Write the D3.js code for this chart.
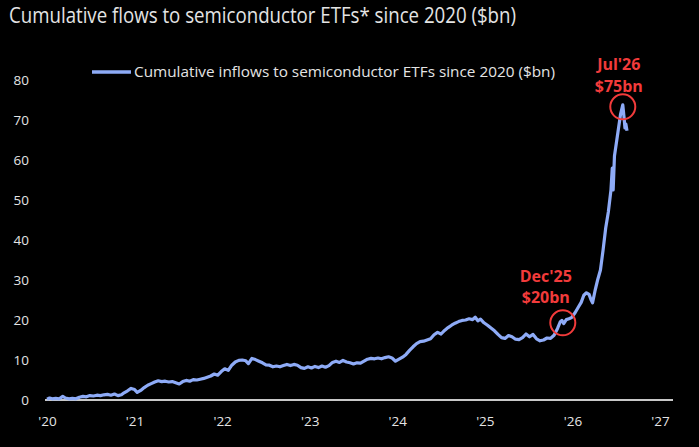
<!DOCTYPE html>
<html>
<head>
<meta charset="utf-8">
<script src="https://cdn.jsdelivr.net/npm/d3@7"></script>
<style>
  html, body { margin: 0; padding: 0; background: #000; }
  svg { display: block; }
</style>
</head>
<body>
<svg id="chart" width="699" height="447"></svg>
<script>
// ---- Data ----
const titleText = "Cumulative flows to semiconductor ETFs* since 2020 ($bn)";
const seriesName = "Cumulative inflows to semiconductor ETFs since 2020 ($bn)";
const yTicks = [0, 10, 20, 30, 40, 50, 60, 70, 80];
const xTicks = [2020, 2021, 2022, 2023, 2024, 2025, 2026, 2027];
const xTickLabels = ["'20", "'21", "'22", "'23", "'24", "'25", "'26", "'27"];

// decimal-year dates and cumulative flows ($bn)
const flowDates = [
  2020.00,2020.03,2020.06,2020.10,2020.14,2020.18,2020.21,2020.25,2020.29,2020.33,
  2020.37,2020.41,2020.45,2020.49,2020.53,2020.57,2020.61,2020.65,2020.69,2020.73,
  2020.77,2020.81,2020.85,2020.88,2020.92,2020.96,2021.00,2021.03,2021.07,2021.11,
  2021.15,2021.19,2021.23,2021.27,2021.31,2021.35,2021.39,2021.43,2021.47,2021.51,
  2021.55,2021.59,2021.63,2021.67,2021.71,2021.75,2021.79,2021.83,2021.87,2021.91,
  2021.95,2021.99,2022.03,2022.07,2022.11,2022.15,2022.19,2022.23,2022.27,2022.30,
  2022.34,2022.38,2022.42,2022.46,2022.50,2022.54,2022.58,2022.62,2022.66,2022.70,
  2022.74,2022.78,2022.82,2022.86,2022.90,2022.94,2022.98,2023.02,2023.06,2023.10,
  2023.14,2023.18,2023.22,2023.26,2023.30,2023.34,2023.38,2023.42,2023.46,2023.50,
  2023.54,2023.58,2023.62,2023.66,2023.70,2023.74,2023.78,2023.82,2023.86,2023.90,
  2023.94,2023.98,2024.02,2024.06,2024.10,2024.14,2024.18,2024.22,2024.26,2024.30,
  2024.34,2024.38,2024.42,2024.46,2024.50,2024.54,2024.58,2024.62,2024.66,2024.70,
  2024.74,2024.78,2024.82,2024.86,2024.89,2024.92,2024.95,2024.99,2025.03,2025.07,
  2025.11,2025.15,2025.19,2025.23,2025.27,2025.31,2025.35,2025.39,2025.43,2025.47,
  2025.51,2025.55,2025.59,2025.63,2025.67,2025.71,2025.75,2025.79,2025.83,2025.86,
  2025.88,2025.90,2025.93,2025.96,2025.99,2026.03,2026.07,2026.10,2026.13,2026.16,
  2026.19,2026.21,2026.23,2026.26,2026.29,2026.32,2026.35,2026.38,2026.41,2026.44,
  2026.455,2026.465,2026.48,2026.52,2026.55,2026.575,2026.59,2026.60,2026.61,2026.623
];
const flowValues = [
  0.2,0.5,0.3,0.4,0.3,0.9,0.5,0.3,0.4,0.3,
  0.7,0.9,0.8,1.1,1.0,1.2,1.1,1.3,1.4,1.2,
  1.5,1.1,1.3,1.8,2.3,2.9,2.6,1.9,2.4,3.1,
  3.7,4.1,4.5,4.8,4.6,4.7,4.5,4.6,4.3,4.0,
  4.6,4.9,4.7,5.1,5.0,5.2,5.4,5.7,6.0,6.5,
  6.2,7.1,7.8,7.4,8.7,9.5,9.9,10.0,9.8,9.1,
  10.4,10.1,9.7,9.3,8.8,8.7,8.3,8.5,8.3,8.6,
  8.9,8.6,8.9,8.7,8.1,7.9,8.3,8.0,8.4,8.1,
  8.5,8.2,8.6,9.4,9.7,9.4,9.9,9.5,9.3,9.0,
  9.3,9.2,9.7,10.2,10.4,10.3,10.5,10.3,10.6,10.8,
  10.5,9.7,10.2,10.7,11.4,12.4,13.3,14.1,14.6,14.7,
  15.0,15.3,16.3,16.9,16.5,17.4,18.1,18.7,19.2,19.6,
  19.9,20.0,20.3,20.1,20.7,19.8,20.2,19.3,18.7,18.0,
  17.3,16.4,15.6,15.4,16.1,15.8,15.2,15.1,15.6,16.5,
  15.8,16.4,15.3,14.8,15.0,15.5,15.4,16.2,17.9,19.5,
  19.9,19.1,20.1,20.3,20.6,21.8,23.3,24.4,26.2,26.8,
  26.4,25.2,24.3,27.5,30.2,32.5,37.5,43.0,47.0,52.5,
  58.0,52.5,61.0,67.0,71.5,73.8,70.5,68.0,69.0,67.3
];

// annotations
const annDates = [2025.89, 2026.575];
const annValues = [19.3, 73.3];
const annLine1 = ["Dec'25", "Jul'26"];
const annLine2 = ["$20bn", "$75bn"];

// ---- Layout / style ----
const lineColor = "#8eabf7";
const annColor = "#f23b3b";
const textColor = "#e4e4e4";
const annOffsets = [{dx: -17, dy1: -41, dy2: -20}, {dx: -4, dy1: -37, dy2: -15}];

const svg = d3.select("#chart");
svg.append("rect").attr("width", 699).attr("height", 447).attr("fill", "#000");

const x = d3.scaleLinear().domain([2020, 2027]).range([47, 660]);
const y = d3.scaleLinear().domain([0, 80]).range([400, 80]);

// Title
svg.append("text")
  .attr("x", 9).attr("y", 23)
  .attr("fill", textColor)
  .attr("font-family", "'Liberation Sans Narrow', 'Open Sans', sans-serif")
  .attr("font-size", 21.5)
  .attr("textLength", 507).attr("lengthAdjust", "spacingAndGlyphs")
  .text(titleText);

// Y axis labels
const yAxis = d3.axisLeft(y).tickValues(yTicks).tickSize(0).tickPadding(0);
const yg = svg.append("g").attr("transform", "translate(29,0)").call(yAxis);
yg.select(".domain").remove();
yg.selectAll("text")
  .attr("fill", textColor)
  .attr("font-family", "'Open Sans', sans-serif")
  .attr("font-size", 13.5);

// X axis labels
const xAxis = d3.axisBottom(x).tickValues(xTicks)
  .tickFormat((d, i) => xTickLabels[i]).tickSize(0).tickPadding(0);
const xg = svg.append("g").attr("transform", "translate(0,416)").call(xAxis);
xg.select(".domain").remove();
xg.selectAll("text")
  .attr("fill", textColor)
  .attr("font-family", "'Open Sans', sans-serif")
  .attr("font-size", 13.5);

// Zero baseline
svg.append("line")
  .attr("x1", x(2020) - 2).attr("x2", 673)
  .attr("y1", y(0)).attr("y2", y(0))
  .attr("stroke", "#c8c8c8").attr("stroke-width", 2);

// Series line
const pts = flowDates.map((d, i) => [d, flowValues[i]]);
const line = d3.line().x(d => x(d[0])).y(d => y(d[1])).curve(d3.curveLinear);
svg.append("path")
  .attr("d", line(pts))
  .attr("fill", "none")
  .attr("stroke", lineColor)
  .attr("stroke-width", 3.2)
  .attr("stroke-linejoin", "round");

// Legend
svg.append("line")
  .attr("x1", 92).attr("x2", 131).attr("y1", 72).attr("y2", 72)
  .attr("stroke", lineColor).attr("stroke-width", 3.5);
svg.append("text")
  .attr("x", 134).attr("y", 77)
  .attr("fill", textColor)
  .attr("font-family", "'Liberation Sans Narrow', 'Open Sans', sans-serif")
  .attr("font-size", 14.5)
  .attr("textLength", 421).attr("lengthAdjust", "spacingAndGlyphs")
  .text(seriesName);

// Annotations
annDates.forEach((d, i) => {
  const cx = x(d), cy = y(annValues[i]);
  const o = annOffsets[i];
  svg.append("circle")
    .attr("cx", cx).attr("cy", cy).attr("r", 12.5)
    .attr("fill", "none").attr("stroke", annColor).attr("stroke-width", 2);
  [annLine1[i], annLine2[i]].forEach((t, j) => {
    svg.append("text")
      .attr("x", cx + o.dx).attr("y", cy + (j === 0 ? o.dy1 : o.dy2))
      .attr("text-anchor", "middle")
      .attr("fill", annColor)
      .attr("font-family", "'Liberation Sans Narrow', 'Open Sans', sans-serif")
      .attr("font-weight", "bold")
      .attr("font-size", 16)
      .text(t);
  });
});
</script>
</body>
</html>
